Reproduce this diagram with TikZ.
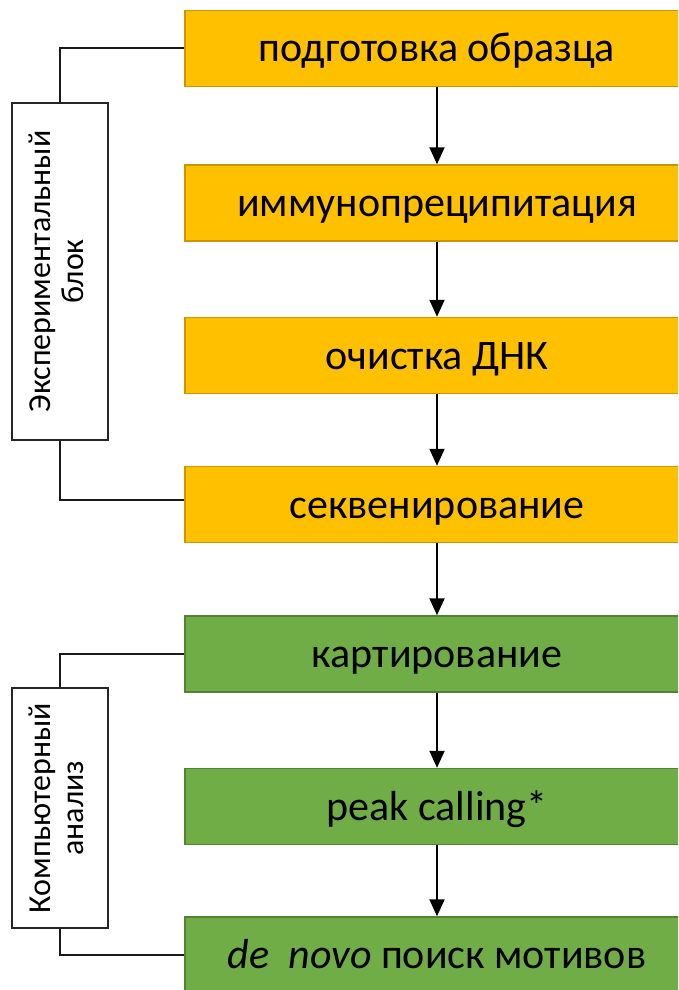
\documentclass[tikz,border=0pt]{standalone}
\usepackage{fontspec}
\setmainfont{Carlito}
\usetikzlibrary{arrows.meta}
\definecolor{orfill}{HTML}{FFC000}
\definecolor{ordraw}{HTML}{C89600}
\definecolor{grfill}{HTML}{70AD47}
\definecolor{grdraw}{HTML}{548235}
\tikzset{
  stagebox/.style={rectangle, minimum width=504pt, minimum height=76pt, inner sep=0pt,
    line width=1.5pt, font=\fontsize{42}{50}\selectfont, text depth=0pt,
    text height=27pt},
  orbox/.style={stagebox, fill=orfill, draw=ordraw},
  grbox/.style={stagebox, fill=grfill, draw=grdraw},
  sidebox/.style={rectangle, draw=black!85, line width=1.5pt, fill=white, minimum width=96pt,
    inner sep=0pt, font=\fontsize{32}{37}\selectfont},
  flow/.style={line width=2pt, -{Triangle[width=15pt,length=17pt]}},
  link/.style={line width=2pt, black!90}
}
\begin{document}
\begin{tikzpicture}[x=1pt,y=-1pt]
\useasboundingbox (0,0) rectangle (678,990);
\clip (0,0) rectangle (678,990);
\node[orbox] (b1) at (437,48.5) {подготовка образца};
\node[orbox] (b2) at (437,203) {иммунопреципитация};
\node[orbox] (b3) at (437,355.5) {очистка ДНК};
\node[orbox] (b4) at (437,504.5) {секвенирование};
\node[grbox] (g1) at (437,654) {картирование};
\node[grbox] (g2) at (437,806.5) {peak calling*};
\node[grbox] (g3) at (437,955) {{\itshape de}\ \ {\itshape novo} поиск мотивов};
\node[sidebox, minimum height=337pt] (exp) at (60,271.5)
  {\rotatebox{90}{\begin{tabular}{c}Экспериментальный\\[-4pt]блок\end{tabular}}};
\node[sidebox, minimum height=240pt] (comp) at (60,808)
  {\rotatebox{90}{\begin{tabular}{c}Компьютерный\\[-4pt]анализ\end{tabular}}};
\draw[flow] (b1) -- (b2);
\draw[flow] (b2) -- (b3);
\draw[flow] (b3) -- (b4);
\draw[flow] (b4) -- (g1);
\draw[flow] (g1) -- (g2);
\draw[flow] (g2) -- (g3);
\draw[link] (exp.north) |- (b1.west);
\draw[link] (exp.south) |- ([yshift=5pt]b4.west);
\draw[link] (comp.north) |- (g1.west);
\draw[link] (comp.south) |- (g3.west);
\end{tikzpicture}
\end{document}
